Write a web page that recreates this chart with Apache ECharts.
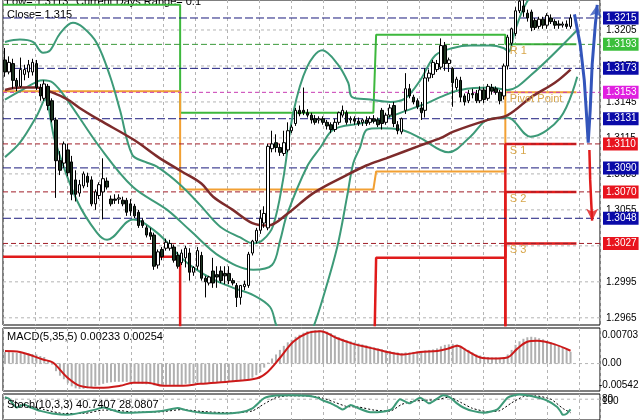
<!DOCTYPE html>
<html><head><meta charset="utf-8">
<script src="https://cdn.jsdelivr.net/npm/echarts@6/dist/echarts.min.js"></script>
<style>html,body{margin:0;padding:0;background:#fff}#c{width:640px;height:420px}</style>
</head><body><div id="c"></div>
<script>
// ---------- DATA ----------
// candles: [open, high, low, close]
const candles = [
[1.3180,1.3190,1.3166,1.3170],[1.3170,1.3183,1.3168,1.3178],[1.3177,1.3181,1.3156,1.3163],[1.3163,1.3165,1.3154,1.3158],
[1.3158,1.3182,1.3157,1.3172],[1.3168,1.3176,1.3163,1.3172],[1.3170,1.3180,1.3165,1.3176],[1.3170,1.3181,1.3167,1.3178],
[1.3177,1.3180,1.3155,1.3157],[1.3157,1.3160,1.3146,1.3150],[1.3148,1.3163,1.3146,1.3160],[1.3158,1.3160,1.3138,1.3142],
[1.3146,1.3148,1.3128,1.3130],[1.3130,1.3132,1.3065,1.3096],[1.3096,1.3104,1.3084,1.3088],[1.3094,1.3112,1.3090,1.3110],
[1.3105,1.3110,1.3083,1.3086],[1.3095,1.3100,1.3063,1.3068],[1.3080,1.3088,1.3062,1.3068],[1.3069,1.3080,1.3066,1.3076],
[1.3075,1.3087,1.3073,1.3085],[1.3083,1.3086,1.3074,1.3078],[1.3080,1.3083,1.3058,1.3060],[1.3060,1.3072,1.3055,1.3070],
[1.3067,1.3078,1.3064,1.3076],[1.3070,1.3098,1.3047,1.3081],[1.3079,1.3082,1.3072,1.3074],[1.3064,1.3067,1.3058,1.3060],
[1.3064,1.3068,1.3060,1.3063],[1.3064,1.3068,1.3060,1.3065],[1.3063,1.3066,1.3058,1.3060],[1.3063,1.3065,1.3050,1.3053],
[1.3060,1.3064,1.3050,1.3054],[1.3058,1.3060,1.3048,1.3050],[1.3053,1.3055,1.3040,1.3042],[1.3046,1.3048,1.3040,1.3042],
[1.3040,1.3042,1.3032,1.3034],[1.3036,1.3040,1.3030,1.3033],[1.3034,1.3036,1.3005,1.3008],[1.3009,1.3022,1.3006,1.3020],
[1.3022,1.3024,1.3013,1.3016],[1.3023,1.3031,1.3021,1.3028],[1.3023,1.3030,1.3021,1.3027],[1.3024,1.3026,1.3011,1.3013],
[1.3017,1.3020,1.3006,1.3008],[1.3011,1.3022,1.3009,1.3019],[1.3015,1.3025,1.3007,1.3023],[1.3019,1.3023,1.2996,1.3003],
[1.3003,1.3008,1.3000,1.3007],[1.3008,1.3024,1.3005,1.3021],[1.3017,1.3020,1.2996,1.2998],[1.2998,1.3000,1.2982,1.2995],
[1.2994,1.3000,1.2992,1.2999],[1.3004,1.3015,1.2990,1.2994],[1.3001,1.3008,1.2990,1.2999],[1.3004,1.3008,1.2994,1.2996],
[1.3002,1.3008,1.2993,1.3000],[1.3002,1.3008,1.2993,1.2996],[1.2996,1.2998,1.2992,1.2994],[1.2992,1.2994,1.2974,1.2982],
[1.2982,1.2992,1.2976,1.2992],[1.2991,1.2996,1.2988,1.2993],[1.2992,1.3020,1.2990,1.3018],[1.3019,1.3030,1.3017,1.3029],
[1.3029,1.3040,1.3027,1.3038],[1.3038,1.3055,1.3035,1.3048],[1.3044,1.3058,1.3040,1.3052],[1.3040,1.3110,1.3038,1.3108],
[1.3106,1.3121,1.3103,1.3110],[1.3111,1.3118,1.3103,1.3107],[1.3107,1.3110,1.3100,1.3103],[1.3102,1.3121,1.3100,1.3111],
[1.3105,1.3128,1.3103,1.3121],[1.3121,1.3126,1.3119,1.3124],[1.3127,1.3140,1.3125,1.3138],[1.3138,1.3142,1.3133,1.3135],
[1.3138,1.3157,1.3134,1.3136],[1.3136,1.3139,1.3132,1.3134],[1.3134,1.3136,1.3127,1.3130],[1.3131,1.3134,1.3126,1.3128],
[1.3130,1.3133,1.3127,1.3131],[1.3131,1.3133,1.3126,1.3128],[1.3128,1.3130,1.3122,1.3125],[1.3126,1.3128,1.3119,1.3122],
[1.3122,1.3131,1.3120,1.3128],[1.3128,1.3137,1.3126,1.3136],[1.3134,1.3142,1.3132,1.3138],[1.3136,1.3138,1.3126,1.3128],
[1.3130,1.3133,1.3127,1.3131],[1.3131,1.3133,1.3126,1.3129],[1.3129,1.3132,1.3125,1.3127],[1.3128,1.3131,1.3125,1.3130],
[1.3130,1.3133,1.3125,1.3127],[1.3128,1.3133,1.3126,1.3131],[1.3131,1.3134,1.3127,1.3129],[1.3130,1.3132,1.3124,1.3126],
[1.3138,1.3140,1.3122,1.3127],[1.3128,1.3136,1.3126,1.3134],[1.3134,1.3143,1.3132,1.3140],[1.3142,1.3145,1.3124,1.3127],
[1.3126,1.3129,1.3118,1.3121],[1.3120,1.3132,1.3118,1.3131],[1.3138,1.3169,1.3135,1.3156],[1.3156,1.3160,1.3148,1.3150],
[1.3149,1.3151,1.3143,1.3145],[1.3146,1.3148,1.3139,1.3141],[1.3140,1.3145,1.3130,1.3136],[1.3138,1.3173,1.3132,1.3165],
[1.3165,1.3172,1.3162,1.3169],[1.3168,1.3180,1.3165,1.3178],[1.3172,1.3180,1.3170,1.3177],[1.3174,1.3198,1.3172,1.3192],
[1.3192,1.3195,1.3171,1.3177],[1.3177,1.3182,1.3170,1.3180],[1.3173,1.3174,1.3141,1.3161],[1.3157,1.3166,1.3155,1.3164],
[1.3163,1.3166,1.3145,1.3149],[1.3150,1.3152,1.3142,1.3145],[1.3146,1.3155,1.3144,1.3152],[1.3152,1.3156,1.3148,1.3151],
[1.3152,1.3155,1.3144,1.3146],[1.3146,1.3158,1.3144,1.3155],[1.3155,1.3157,1.3144,1.3147],[1.3148,1.3160,1.3146,1.3158],
[1.3157,1.3160,1.3151,1.3154],[1.3156,1.3158,1.3151,1.3153],[1.3153,1.3155,1.3143,1.3146],[1.3150,1.3177,1.3147,1.3175],
[1.3175,1.3201,1.3172,1.3199],[1.3194,1.3207,1.3192,1.3206],[1.3202,1.3224,1.3200,1.3221],[1.3221,1.3236,1.3219,1.3229],
[1.3225,1.3230,1.3216,1.3220],[1.3219,1.3222,1.3212,1.3215],[1.3220,1.3222,1.3204,1.3207],[1.3213,1.3215,1.3205,1.3207],
[1.3208,1.3216,1.3206,1.3214],[1.3214,1.3216,1.3206,1.3209],[1.3209,1.3219,1.3206,1.3217],[1.3215,1.3218,1.3210,1.3212],
[1.3212,1.3214,1.3206,1.3209],[1.3210,1.3213,1.3206,1.3209],[1.3209,1.3212,1.3207,1.3210],[1.3210,1.3213,1.3206,1.3208],
[1.3208,1.3218,1.3206,1.3215]
];

// Bollinger bands and moving average, read as [bar, price]
const bbUpper = [[0,1.3195],[3.8,1.3197],[7.1,1.3195],[9.7,1.3186],[11.5,1.3188],[14,1.3202],[17.3,1.3211],[19.9,1.3207],[23.4,1.3194],[26.8,1.3166],[29.3,1.3138],[32.4,1.3101],[35.7,1.3095],[38.7,1.3091],[44.6,1.3076],[49.7,1.3059],[54.8,1.3041],[59.9,1.3032],[63.2,1.3027],[65.7,1.3030],[68.3,1.3042],[70.8,1.3080],[73.4,1.3136],[76.9,1.3174],[80.8,1.3188],[84.6,1.3177],[87.4,1.3161],[88.4,1.3149],[93,1.3147],[98.1,1.3145],[101.9,1.3148],[105.7,1.3163],[109.6,1.3184],[114.1,1.3190],[118.5,1.3192],[123.6,1.3192],[126.9,1.3190],[128.2,1.3187],[129.9,1.3205],[132.5,1.3226],[136.3,1.3243],[145,1.3255]];
const bbMiddle = [[0,1.3147],[3.8,1.3154],[8.2,1.3162],[9.7,1.3163],[12.2,1.3161],[15.8,1.3147],[24.2,1.3107],[32.6,1.3074],[41.3,1.3055],[47.1,1.3038],[54.8,1.3016],[63.2,1.3005],[68,1.3009],[70.1,1.3030],[71.8,1.3051],[76.9,1.3091],[80.3,1.3107],[83.6,1.3122],[90.4,1.3127],[97.3,1.3132],[102.4,1.3138],[107.5,1.3144],[110.8,1.3149],[115.9,1.3155],[123.6,1.3157],[128,1.3155],[133.8,1.3167],[145.7,1.3205]];
const bbLower = [[0,1.3099],[3.8,1.3111],[8.2,1.3134],[10.2,1.3147],[12.7,1.3113],[18.3,1.3063],[23.4,1.3036],[26,1.3030],[31.1,1.3045],[32.6,1.3047],[38.7,1.3036],[44.6,1.3016],[47.9,1.3007],[53,1.2997],[58.1,1.2990],[63.2,1.2984],[67.5,1.2974],[69.3,1.2957],[72.6,1.2942],[76.4,1.2942],[78.5,1.2957],[81,1.2982],[84.6,1.3024],[87.1,1.3066],[88.7,1.3094],[90.4,1.3107],[92.2,1.3122],[95.5,1.3123],[100.6,1.3122],[105.7,1.3115],[112.9,1.3103],[118.5,1.3116],[122.8,1.3130],[127.9,1.3132],[133.8,1.3116],[141.4,1.3132],[145.7,1.3166]];
const maLine = [[0,1.3155],[4,1.3157],[8,1.3157],[12,1.3153],[16,1.3147],[19,1.3140],[24,1.3130],[33,1.3113],[39,1.3099],[45,1.3087],[50,1.3077],[53,1.3066],[58,1.3055],[63,1.3044],[67,1.3042],[72,1.3052],[78.5,1.3069],[87,1.3084],[92,1.3092],[97,1.3098],[106,1.3109],[111,1.3115],[114,1.3120],[123,1.3130],[128,1.3134],[134,1.3149],[140,1.3161],[144,1.3172]];

// daily pivot step lines [bar, price]
const dayStarts = [-0.5, 44.6, 93.8, 127.4];
const pivotR1 = [[-0.5,1.3226],[44.6,1.3226],[44.6,1.3136],[93.8,1.3136],[94.5,1.3201],[127.4,1.3201],[127.4,1.3193],[145.5,1.3193]];
const pivotPP = [[-0.5,1.3154],[44.6,1.3154],[44.6,1.3072],[93.8,1.3072],[94.5,1.3087],[127.4,1.3087],[127.4,1.3153],[145.5,1.3153]];
const pivotS1 = [[-0.5,1.3016],[44.6,1.3016],[44.6,1.2900],[93.8,1.2900],[94.5,1.3015],[127.4,1.3015],[127.4,1.3110],[145.5,1.3110]];
const pivotS2 = [[127.4,1.2900],[127.4,1.3070],[145.5,1.3070]];
const pivotS3 = [[127.4,1.2900],[127.4,1.3027],[145.5,1.3027]];
const pivotNames = ['R 1','Pivot Point','S 1','S 2','S 3'];

// horizontal levels
const levelNavy = [1.3215, 1.3173, 1.3131, 1.3090, 1.3048];
const levelRed = [1.3110, 1.3070, 1.3027];
const levelGreen = [1.3193];
const levelMagenta = [1.3153];
const priceTicks = [1.3205, 1.3175, 1.3145, 1.3115, 1.3085, 1.3055, 1.3025, 1.2995, 1.2965];

// forecast arrows [bar, price]
const blueArrow = [[145.0,1.3218],[146.5,1.3192],[147.5,1.3163],[148.0,1.3138],[148.5,1.3111],[149.0,1.3138],[149.5,1.3176],[150.3,1.3209],[150.8,1.3226]];
const redArrow = [[148.8,1.3105],[149.0,1.3080],[149.3,1.3059],[149.5,1.3046]];

// MACD(5,35,5)
const macdHist = [0.0023,0.0023,0.0022,0.0021,0.0021,0.0020,0.0020,0.0019,0.0018,0.0015,0.0013,0.0007,-0.0002,-0.0015,-0.0024,-0.0031,-0.0039,-0.0045,-0.0049,-0.0050,
-0.0050,-0.0049,-0.0047,-0.0045,-0.0043,-0.0040,-0.0038,-0.0037,-0.0036,-0.0036,-0.0036,-0.0036,-0.0037,-0.0038,-0.0039,-0.0040,-0.0041,-0.0041,-0.0043,-0.0043,
-0.0042,-0.0042,-0.0042,-0.0043,-0.0043,-0.0042,-0.0040,-0.0040,-0.0039,-0.0038,-0.0039,-0.0039,-0.0038,-0.0037,-0.0037,-0.0036,-0.0036,-0.0035,-0.0035,-0.0034,
-0.0033,-0.0033,-0.0031,-0.0028,-0.0023,-0.0017,-0.0008,0.0002,0.0010,0.0018,0.0027,0.0035,0.0042,0.0047,0.0053,0.0057,0.0061,0.0064,0.0065,0.0066,
0.0066,0.0065,0.0063,0.0060,0.0056,0.0052,0.0049,0.0046,0.0044,0.0042,0.0040,0.0038,0.0036,0.0034,0.0032,0.0030,0.0028,0.0026,0.0025,0.0023,
0.0022,0.0021,0.0022,0.0022,0.0023,0.0024,0.0024,0.0026,0.0027,0.0028,0.0030,0.0034,0.0037,0.0038,0.0039,0.0038,0.0035,0.0031,0.0027,0.0022,
0.0018,0.0016,0.0014,0.0013,0.0012,0.0012,0.0011,0.0012,0.0018,0.0027,0.0037,0.0044,0.0049,0.0052,0.0053,0.0052,0.0050,0.0048,0.0045,0.0042,
0.0039,0.0036,0.0032,0.0028,0.00233];
const macdSignal = [[0,0.0025],[3.8,0.0023],[9.7,0.0008],[12.2,0.0002],[15.8,-0.0027],[19.1,-0.0044],[24.2,-0.0048],[29.3,-0.0044],[32.6,-0.0038],[36.2,-0.0038],[40.3,-0.0044],[45.4,-0.0044],[49.7,-0.0040],[58.1,-0.0035],[64.2,-0.0029],[66.8,-0.0017],[70.1,0.0012],[73.4,0.0043],[76.9,0.0060],[80.3,0.0064],[84.6,0.0050],[88.7,0.0039],[93,0.0031],[97.3,0.0023],[101.4,0.0018],[105.7,0.0023],[110.1,0.0025],[112.6,0.0029],[115.2,0.0035],[117.7,0.0025],[121,0.0012],[124.3,0.0010],[127.9,0.0012],[130.4,0.0029],[133,0.0043],[135.5,0.0045],[139.6,0.0039],[144,0.00254]];
const macdTicks = [0.00703, 0, -0.00542];
const macdTickLabels = ['0.00703', '0.00', '-0.00542'];

// Stochastic(10,3,3)
const stochK = [[0,88],[1,82],[3,48],[4,55],[5,60],[6,52],[7,46],[9,35],[12,25],[16,20],[20,30],[23,40],[25,48],[27,40],[30,28],[35,30],[40,35],[44,46],[46,38],[50,28],[55,25],[60,30],[63,45],[66,84],[69,94],[73,95],[77,93],[79.5,86],[81,75],[83,64],[85,48],[86,40],[88,58],[90,45],[93,30],[96,32],[98.5,42],[100.6,80],[103,64],[105.7,86],[108,64],[111.6,95],[113.4,86],[115,65],[116.7,48],[119,35],[122,28],[125.4,41],[128,86],[131,98],[134,92],[138,75],[140.6,50],[141.5,32],[142,20],[143,24],[144,40.74]];
const stochD = [[0,85],[2,75],[4,58],[7,52],[10,40],[15,25],[20,25],[25,38],[28,38],[33,30],[40,32],[45,40],[50,33],[58,27],[63,35],[66,62],[69,86],[72,93],[78,92],[81,84],[84,68],[87,52],[90,50],[94,38],[98,34],[101,60],[104,72],[107,76],[110,78],[113,88],[116,68],[119,45],[123,32],[126,36],[129,66],[132,90],[135,93],[139,80],[142,45],[144,28.08]];
const stochTicks = [100, 80];

const textLow = 'Low= 1.3113';
const textRange = 'Current Days Range= 0.1';
const textClose = 'Close= 1.315';
const textMacd = 'MACD(5,35,5) 0.00233 0.00254';
const textStoch = 'Stoch(10,3,3) 40.7407 28.0807';

// ---------- CHART ----------
const FONT = 'Liberation Sans';
const SLOTS = 152;
const X0 = -0.5, X1 = SLOTS - 0.5;
const cats = Array.from({length: SLOTS}, (_, i) => String(i));
const chart = echarts.init(document.getElementById('c'), null, {renderer: 'canvas', width: 640, height: 420});

function vgrid(g) {
  return {type: 'value', gridIndex: g, min: 0, max: SLOTS, interval: 8.15,
    axisLine: {show: false}, axisTick: {show: false}, axisLabel: {show: false},
    splitLine: {show: true, lineStyle: {color: '#b4b4b4', type: [3, 3], width: 1}}};
}
function ov(g) { return {type: 'value', gridIndex: g, min: X0, max: X1, show: false}; }

// horizontal line across a panel with a right-side label
function hLine(xi, yi, v, text, lineStyle, labelOpt, z) {
  return {type: 'line', xAxisIndex: xi, yAxisIndex: yi, data: [[X0, v], [X1, v]], z: z, symbol: 'none', silent: true,
    animation: false, lineStyle: lineStyle,
    endLabel: Object.assign({show: true, formatter: text, distance: 3, fontSize: 10, fontFamily: FONT, color: '#000', padding: [2, 2, 1, 3]}, labelOpt)};
}

const series = [];
priceTicks.forEach(v => series.push(hLine(1, 0, v, v.toFixed(4), {color: '#b4b4b4', type: [3, 3], width: 1}, {}, 1)));

function addLevels(vals, lineColor, boxColor, dash) {
  vals.forEach(v => series.push(hLine(1, 0, v, v.toFixed(4), {color: lineColor, type: dash, width: 1},
    {color: '#fff', backgroundColor: boxColor}, 3)));
}

function pivotSeries(data, color, width, name) {
  const last = data[data.length - 1];
  return {type: 'line', xAxisIndex: 1, yAxisIndex: 0, data: data, z: 2, symbol: 'none', animation: false,
    lineStyle: {color: color, width: width},
    markPoint: {symbol: 'circle', symbolSize: 1, itemStyle: {color: 'rgba(0,0,0,0)'}, animation: false,
      label: {show: true, position: 'right', distance: 4, offset: [0, 7], formatter: name, color: '#d8a64a', fontSize: 11, fontFamily: FONT},
      data: [{coord: [dayStarts[3], last[1]]}]}};
}
function band(data, color, width) {
  return {type: 'line', xAxisIndex: 1, yAxisIndex: 0, data: data, z: 4, symbol: 'none', smooth: 0.35, animation: false,
    lineStyle: {color: color, width: width}};
}

series.push(pivotSeries(pivotR1, '#3db83d', 2, pivotNames[0]));
series.push(pivotSeries(pivotPP, '#f2a033', 2, pivotNames[1]));
series.push(pivotSeries(pivotS1, '#e01b1b', 2.5, pivotNames[2]));
series.push(pivotSeries(pivotS2, '#e01b1b', 2.5, pivotNames[3]));
series.push(pivotSeries(pivotS3, '#e01b1b', 2.5, pivotNames[4]));

addLevels(levelNavy, '#1b1b7e', '#0a0aa8', [8, 3]);
addLevels(levelRed, '#a01e28', '#e8141e', [5, 3]);
addLevels(levelGreen, '#3a9a3a', '#3cbf3c', [6, 3]);
addLevels(levelMagenta, '#c83cb4', '#e020e0', [4, 3]);

series.push(band(bbUpper, '#3d9a78', 2));
series.push(band(bbMiddle, '#3d9a78', 2));
series.push(band(bbLower, '#3d9a78', 2));
series.push(band(maLine, '#7d2b2b', 2.5));
series.push({type: 'candlestick', xAxisIndex: 0, yAxisIndex: 0, z: 5, barWidth: 3,
  data: candles.map(d => [d[0], d[3], d[2], d[1]]),
  itemStyle: {color: '#ffffff', color0: '#1d3320', borderColor: '#000', borderColor0: '#000', borderWidth: 1}});
series.push({type: 'line', xAxisIndex: 1, yAxisIndex: 0, data: blueArrow, z: 6, symbol: 'none', clip: false,
  lineStyle: {color: '#3355bb', width: 3}});
series.push({type: 'line', xAxisIndex: 1, yAxisIndex: 0, data: redArrow, z: 6, symbol: 'none', clip: false,
  lineStyle: {color: '#e01b1b', width: 2.5}});
series.push({type: 'scatter', xAxisIndex: 1, yAxisIndex: 0, z: 6, clip: false, symbol: 'arrow', symbolSize: [9, 12],
  data: [{value: blueArrow[blueArrow.length - 1], symbolRotate: -8, itemStyle: {color: '#3355bb'}},
         {value: redArrow[redArrow.length - 1], symbolRotate: 180, itemStyle: {color: '#e01b1b'}}]});

// MACD panel
const smallLbl = {distance: 1, padding: 0};
series.push(hLine(4, 1, macdTicks[0], macdTickLabels[0], {width: 0, color: 'rgba(0,0,0,0)'}, Object.assign({offset: [1, 7]}, smallLbl), 1));
series.push(hLine(4, 1, macdTicks[1], macdTickLabels[1], {color: '#b4b4b4', type: [3, 3], width: 1}, Object.assign({offset: [1, 0]}, smallLbl), 1));
series.push(hLine(4, 1, macdTicks[2], macdTickLabels[2], {width: 0, color: 'rgba(0,0,0,0)'}, Object.assign({offset: [-2, -6]}, smallLbl), 1));
series.push({type: 'bar', xAxisIndex: 3, yAxisIndex: 1, data: macdHist, barWidth: 2, itemStyle: {color: '#b0b0b0'}, z: 2});
series.push({type: 'line', xAxisIndex: 4, yAxisIndex: 1, data: macdSignal, symbol: 'none', smooth: 0.35, z: 3,
  lineStyle: {color: '#cc1a1a', width: 2}});

// Stochastic panel
series.push(hLine(6, 2, stochTicks[0], String(stochTicks[0]), {width: 0, color: 'rgba(0,0,0,0)'}, {offset: [0, 7], distance: 2, padding: 0}, 1));
series.push(hLine(6, 2, stochTicks[1], String(stochTicks[1]), {color: '#b4b4b4', type: [3, 3], width: 1}, {distance: 2, padding: 0}, 1));
series.push({type: 'line', xAxisIndex: 6, yAxisIndex: 2, data: stochD, symbol: 'none', smooth: 0.2, z: 3,
  lineStyle: {color: '#000', width: 1, type: [2, 2]}});
series.push({type: 'line', xAxisIndex: 6, yAxisIndex: 2, data: stochK, symbol: 'none', smooth: 0.2, z: 4,
  lineStyle: {color: '#3d9a78', width: 2}});

const option = {
  animation: false,
  backgroundColor: '#ffffff',
  textStyle: {fontFamily: FONT},
  grid: [
    {left: 3, right: 40, top: 0, height: 325, show: true, borderColor: '#000', borderWidth: 1, backgroundColor: '#fff'},
    {left: 3, right: 40, top: 328, height: 63, show: true, borderColor: '#000', borderWidth: 1},
    {left: 3, right: 40, top: 394, height: 44, show: true, borderColor: '#000', borderWidth: 1}
  ],
  xAxis: [
    {type: 'category', gridIndex: 0, data: cats, boundaryGap: true, show: false},
    ov(0), vgrid(0),
    {type: 'category', gridIndex: 1, data: cats, boundaryGap: true, show: false},
    ov(1), vgrid(1),
    ov(2), vgrid(2)
  ],
  yAxis: [
    {type: 'value', gridIndex: 0, min: 1.2959, max: 1.3230, show: false},
    {type: 'value', gridIndex: 1, min: -0.00542, max: 0.00703, show: false},
    {type: 'value', gridIndex: 2, min: 0, max: 100, show: false}
  ],
  graphic: [
    {type: 'text', left: 6, top: -4, z: 1, style: {text: textLow, font: '11px ' + FONT, fill: '#000'}},
    {type: 'text', left: 76, top: -4, z: 1, style: {text: textRange, font: '11px ' + FONT, fill: '#000'}},
    {type: 'text', left: 7, top: 9, z: 1, style: {text: textClose, font: '11px ' + FONT, fill: '#000'}},
    {type: 'text', left: 7, top: 331, z: 10, style: {text: textMacd, font: '11px ' + FONT, fill: '#000'}},
    {type: 'text', left: 7, top: 399, z: 10, style: {text: textStoch, font: '11px ' + FONT, fill: '#000'}}
  ],
  series: series
};
chart.setOption(option);
</script></body></html>
